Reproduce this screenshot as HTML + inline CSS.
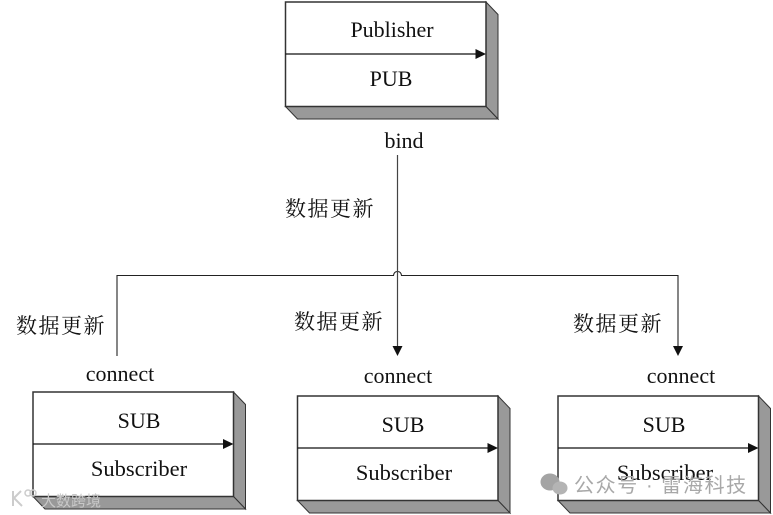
<!DOCTYPE html>
<html><head><meta charset="utf-8">
<style>
html,body{margin:0;padding:0;background:#fff}
svg{display:block}
text{font-family:"Liberation Serif","Noto Serif CJK SC",serif;font-size:22px;fill:#111}
.c{text-anchor:middle}
.s{font-size:22.5px}
.cn{font-size:21px;letter-spacing:1.5px}
.wm{font-family:"Liberation Sans","Noto Sans CJK SC",sans-serif;fill:#a8a8a8}
</style></head>
<body>
<svg width="773" height="515" viewBox="0 0 773 515" xmlns="http://www.w3.org/2000/svg">
<rect width="773" height="515" fill="#fff"/>
<defs>
<g id="box">
<polygon points="200.5,0 212.5,12.5 212.5,117 200.5,104.5" fill="#999" stroke="#333" stroke-width="1"/>
<polygon points="0,104.5 200.5,104.5 212.5,117 12,117" fill="#999" stroke="#333" stroke-width="1"/>
<rect x="0" y="0" width="200.5" height="104.5" fill="#fff" stroke="#333" stroke-width="1.5"/>
<line x1="0" y1="52" x2="192" y2="52" stroke="#111" stroke-width="1.2"/>
<polygon points="190,47 200.5,52 190,57" fill="#111"/>
</g>
</defs>

<use href="#box" x="285.5" y="2"/>
<use href="#box" x="33" y="392"/>
<use href="#box" x="297.5" y="396"/>
<use href="#box" x="558" y="396"/>

<path d="M117 356V275.5H393.5Q394 271.5 397.5 271.5Q401 271.5 401.5 275.5H678V348" fill="none" stroke="#222" stroke-width="1.1"/>
<path d="M397.5 155V348" fill="none" stroke="#444" stroke-width="1.2"/>
<polygon points="392.5,346 402.5,346 397.5,356" fill="#111"/>
<polygon points="673,346 683,346 678,356" fill="#111"/>

<text class="c" x="392" y="37">Publisher</text>
<text class="c" x="391" y="86">PUB</text>
<text class="c" x="404" y="148">bind</text>

<text class="cn" x="285" y="216">数据更新</text>
<text class="cn" x="16" y="333">数据更新</text>
<text class="cn" x="294" y="329">数据更新</text>
<text class="cn" x="573" y="331">数据更新</text>

<text class="c" x="120" y="381">connect</text>
<text class="c" x="398" y="383">connect</text>
<text class="c" x="681" y="383">connect</text>

<text class="c" x="139" y="428">SUB</text>
<text class="c s" x="139" y="476">Subscriber</text>
<text class="c" x="403" y="432">SUB</text>
<text class="c s" x="404" y="480">Subscriber</text>
<text class="c" x="664" y="432">SUB</text>
<text class="c s" x="665" y="480">Subscriber</text>

<ellipse cx="550" cy="482" rx="9.5" ry="8.5" fill="#a4a4a4"/>
<ellipse cx="560" cy="488" rx="7.5" ry="6.5" fill="#b4b4b4"/>
<text class="wm" x="574" y="492" style="font-size:20px;letter-spacing:1.6px">公众号 · 雷海科技</text>
<path d="M13 491V506M21 491L14 498L22 506" fill="none" stroke="#ccc" stroke-width="2"/>
<circle cx="28" cy="493" r="3" fill="none" stroke="#ccc" stroke-width="1.5"/>
<circle cx="33" cy="493" r="3" fill="none" stroke="#ccc" stroke-width="1.5"/>
<text class="wm" x="41" y="506" style="font-size:15px;fill:#c8c8c8">大数跨境</text>
</svg>
</body></html>
